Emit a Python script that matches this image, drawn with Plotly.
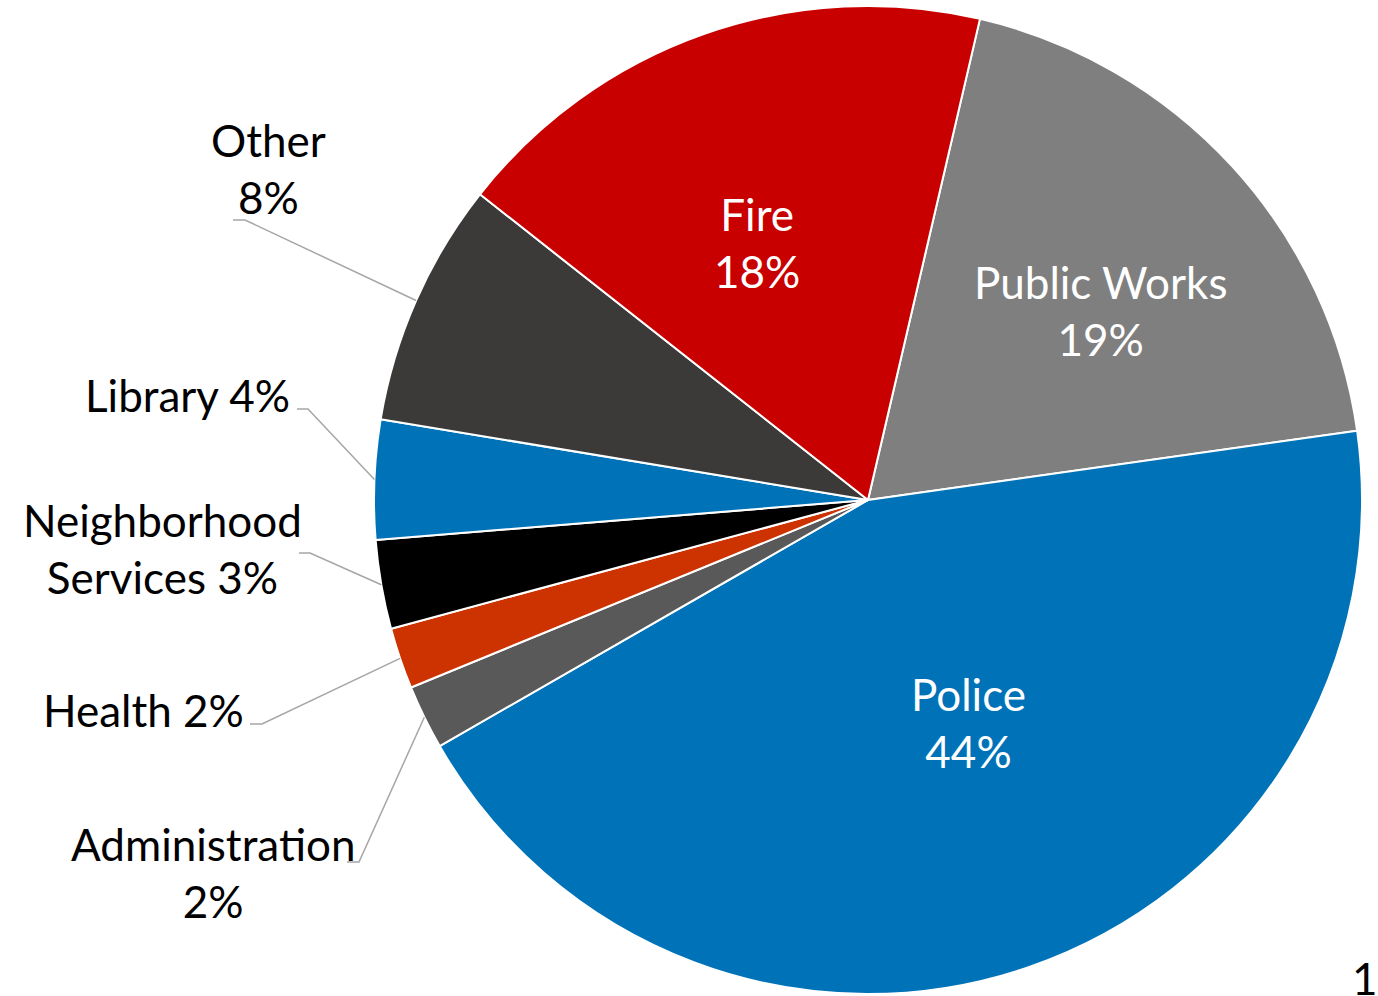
import math
import plotly.graph_objects as go

# ---- data ----
departments = ["Public Works", "Police", "Administration", "Health",
               "Neighborhood Services", "Library", "Other", "Fire"]
shares = [19.1, 43.9, 2.1, 2.0, 2.9, 3.9, 8.0, 18.0]
colors = ["#7f7f7f", "#0072b8", "#595959", "#cc3300",
          "#000000", "#0072b8", "#3c3a39", "#c80000"]

# ---- layout constants ----
W, H = 1378, 996
ML, MR, MT, MB = 0, 0, 6, 2
CX, R = 868, 494
FONT = "Lato"
FS = 44
ROT = 13.1

pw, ph = W - ML - MR, H - MT - MB
CY = MT + ph / 2


def px2paper(x, y):
    return (x - ML) / pw, 1 - (y - MT) / ph


total = sum(shares)
pct = [round(v / total * 100) for v in shares]

# inside label placement (pixel centre)
inside_cfg = {
    "Public Works": (1100, 310),
    "Police": (968, 722),
    "Fire": (757, 242),
}

# outside label placement (label text, anchor pixel, xanchor, elbow pixel, line end x)
outside_cfg = {
    "Other": dict(text="Other<br>{p}%", x=268, y=169, xa="center", elbow=(245, 220), end=233),
    "Library": dict(text="Library {p}%", x=292, y=395, xa="right", elbow=(308, 409), end=297),
    "Neighborhood Services": dict(text="Neighborhood<br>Services {p}%", x=162, y=548, xa="center",
                                  elbow=(310, 553), end=299),
    "Health": dict(text="Health {p}%", x=246, y=710, xa="right", elbow=(262, 724), end=250),
    "Administration": dict(text="Administration<br>{p}%", x=213, y=872, xa="center",
                           elbow=(359, 862), end=347),
}

fig = go.Figure(go.Pie(
    labels=departments,
    values=shares,
    sort=False,
    direction="clockwise",
    rotation=ROT,
    marker=dict(colors=colors, line=dict(color="white", width=2)),
    textinfo="none",
    domain=dict(x=[(CX - R - ML) / pw, (CX + R - ML) / pw], y=[0, 1]),
    hoverinfo="label+percent",
    showlegend=False,
))

annotations = []
shapes = []
cum = 0.0
for name, v, p in zip(departments, shares, pct):
    mid = ROT + (cum + v / 2) / total * 360
    cum += v
    if name in inside_cfg:
        ax, ay = px2paper(*inside_cfg[name])
        annotations.append(dict(
            text=f"{name}<br>{p}%", x=ax, y=ay, xref="paper", yref="paper",
            xanchor="center", yanchor="middle", showarrow=False, align="center",
            font=dict(family=FONT, size=FS, color="white"),
        ))
        continue
    c = outside_cfg[name]
    a = math.radians(mid)
    sx, sy = CX + R * math.sin(a), CY - R * math.cos(a)
    ax, ay = px2paper(c["x"], c["y"])
    annotations.append(dict(
        text=c["text"].format(p=p), x=ax, y=ay, xref="paper", yref="paper",
        xanchor=c["xa"], yanchor="middle", showarrow=False, align="center",
        font=dict(family=FONT, size=FS, color="black"),
    ))
    pts = [px2paper(sx, sy), px2paper(*c["elbow"]), px2paper(c["end"], c["elbow"][1])]
    path = "M {} {} L {} {} L {} {}".format(*[f"{q:.5f}" for pt in pts for q in pt])
    shapes.append(dict(type="path", path=path, xref="paper", yref="paper",
                       line=dict(color="#a6a6a6", width=1.5)))

# slide page number (partially cut off at the right edge, as in the source slide)
nx, ny = px2paper(1350, 978)
annotations.append(dict(text="15", x=nx, y=ny, xref="paper", yref="paper",
                        xanchor="left", yanchor="middle", showarrow=False,
                        font=dict(family=FONT, size=FS, color="black")))

fig.update_layout(
    width=W, height=H,
    margin=dict(l=ML, r=MR, t=MT, b=MB),
    paper_bgcolor="white", plot_bgcolor="white",
    annotations=annotations, shapes=shapes,
)

fig.write_html("out.html")
